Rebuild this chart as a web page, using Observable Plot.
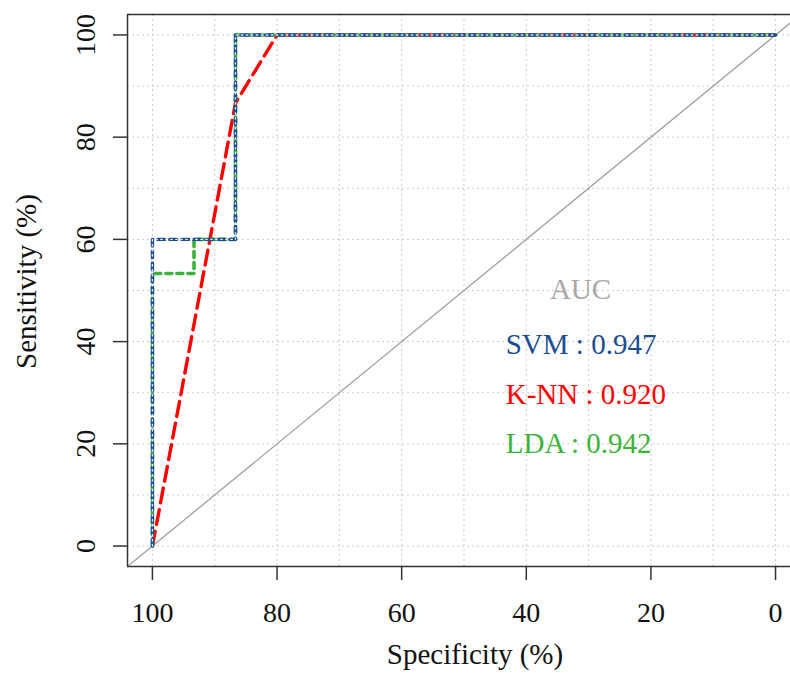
<!DOCTYPE html>
<html>
<head>
<meta charset="utf-8">
<script src="https://cdn.jsdelivr.net/npm/d3@7"></script>
<script src="https://cdn.jsdelivr.net/npm/@observablehq/plot@0.6"></script>
<style>
  html, body { margin: 0; padding: 0; background: #fff; overflow: hidden; }
  #chart svg { display: block; }
</style>
</head>
<body>
<div id="chart"></div>
<script>
// ---- data ----
const xTicks = [100, 80, 60, 40, 20, 0];
const yTicks = [0, 20, 40, 60, 80, 100];
const gridVals = [0, 10, 20, 30, 40, 50, 60, 70, 80, 90, 100];

const svmSpec = [100, 100, 86.67, 86.67, 0];
const svmSens = [0, 60, 60, 100, 100];
const knnSpec = [100, 86.67, 80, 0];
const knnSens = [0, 86.67, 100, 100];
const ldaSpec = [100, 100, 93.33, 93.33, 86.67, 86.67, 0];
const ldaSens = [0, 53.33, 53.33, 60, 60, 100, 100];

const aucModels = ["SVM", "K-NN", "LDA"];
const aucValues = [0.947, 0.920, 0.942];

// ---- styles ----
const BLUE = "#1B4C94", RED = "#FF0000", GREEN = "#3CB43C", GRAY = "#A8A8A8";
const FONT = "'Liberation Serif', 'DejaVu Serif', serif";

const toRows = (xs, ys) => xs.map((x, i) => ({x, y: ys[i]}));
const svm = toRows(svmSpec, svmSens);
const knn = toRows(knnSpec, knnSens);
const lda = toRows(ldaSpec, ldaSens);

const legendRows = aucModels.map((m, i) => ({
  label: `${m} : ${aucValues[i].toFixed(3)}`,
  color: [BLUE, RED, GREEN][i],
  y: [39.3, 29.7, 20][i]
}));

const chart = Plot.plot({
  width: 790,
  height: 673,
  marginLeft: 127,
  marginRight: 0,
  marginTop: 14,
  marginBottom: 107,
  style: {fontFamily: FONT, background: "#fff"},
  x: {domain: [104, -2.4], axis: null},
  y: {domain: [-4, 104], axis: null},
  marks: [
    // grid
    Plot.ruleX(gridVals, {stroke: "#CCCCCC", strokeWidth: 1, strokeDasharray: "2,3"}),
    Plot.ruleY(gridVals, {stroke: "#CCCCCC", strokeWidth: 1, strokeDasharray: "2,3"}),
    // diagonal reference
    Plot.line([{x: 104, y: -4}, {x: -4, y: 104}], {x: "x", y: "y", stroke: "#A0A0A0", strokeWidth: 1.3, clip: "frame"}),
    // curves
    Plot.line(knn, {x: "x", y: "y", stroke: RED, strokeWidth: 3.4, strokeDasharray: "15,7"}),
    Plot.line(lda, {x: "x", y: "y", stroke: GREEN, strokeWidth: 3.6, strokeDasharray: "6,5"}),
    Plot.line(svm, {x: "x", y: "y", stroke: BLUE, strokeWidth: 3.4, strokeDasharray: "7,5"}),
    Plot.line(svm, {x: "x", y: "y", stroke: "#FFFFFF", strokeWidth: 1.4, strokeDasharray: "1.5,3.5", strokeOpacity: 0.85}),
    // frame (left, top, bottom)
    Plot.ruleX([104], {stroke: "#333", strokeWidth: 1.5}),
    Plot.ruleY([-4, 104], {stroke: "#333", strokeWidth: 1.5}),
    // x axis ticks & labels
    Plot.ruleX(xTicks, {x: d => d, y1: -4, y2: -6.75, stroke: "#333", strokeWidth: 1.5, clip: false}),
    Plot.text(xTicks, {x: d => d, frameAnchor: "bottom", dy: 47, text: d => String(d), fontSize: 28, fill: "#111", lineAnchor: "middle"}),
    // y axis ticks & labels
    Plot.ruleY(yTicks, {y: d => d, x1: 104, x2: 106.25, stroke: "#333", strokeWidth: 1.5, clip: false}),
    Plot.text(yTicks, {y: d => d, frameAnchor: "left", dx: -41.6, rotate: -90, text: d => String(d), fontSize: 28, fill: "#111", lineAnchor: "middle", textAnchor: "middle"}),
    // axis titles
    Plot.text(["Specificity (%)"], {frameAnchor: "bottom", dx: 474.5 - (127 + 790) / 2, dy: 654 - 566, text: d => d, fontSize: 29, fill: "#111", lineAnchor: "middle"}),
    Plot.text(["Sensitivity (%)"], {frameAnchor: "left", dx: 26 - 127, dy: 281 - 290, rotate: -90, text: d => d, fontSize: 29, fill: "#111", lineAnchor: "middle", textAnchor: "middle"}),
    // AUC annotation
    Plot.text(["AUC"], {x: 31.3, y: 50.1, text: d => d, fontSize: 29, fill: GRAY, lineAnchor: "middle", textAnchor: "middle"}),
    Plot.text(legendRows, {x: 43.3, y: "y", text: "label", fill: "color", fontSize: 29, lineAnchor: "middle", textAnchor: "start"})
  ]
});
document.getElementById("chart").append(chart);
</script>
</body>
</html>
